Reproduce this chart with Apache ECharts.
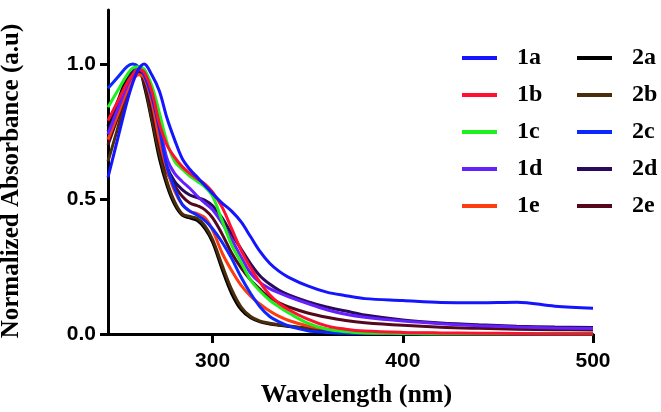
<!DOCTYPE html>
<html lang="en">
  <head>
    <meta charset="UTF-8" />
    <title>Normalized absorbance</title>
    <script src="https://cdn.jsdelivr.net/npm/echarts@6/dist/echarts.min.js"></script>
    <style>
      html, body { margin: 0; padding: 0; background: #fff; }
      #chart { width: 661px; height: 412px; }
    </style>
  </head>
  <body>
    <div id="chart"></div>
    <script>
      // wavelengths (nm) shared by every spectrum
      const wavelengths = [245, 250, 255, 258, 261, 264, 268, 272, 276, 280, 284, 288, 292, 296, 300, 305, 310, 315, 320, 325, 330, 335, 340, 350, 360, 370, 380, 400, 420, 440, 460, 480, 500];

      const abs1a = [0.58, 0.72, 0.86, 0.93, 0.98, 1.0, 0.96, 0.9, 0.8, 0.72, 0.65, 0.61, 0.58, 0.55, 0.52, 0.485, 0.455, 0.415, 0.36, 0.305, 0.262, 0.232, 0.21, 0.178, 0.155, 0.142, 0.131, 0.124, 0.117, 0.116, 0.118, 0.103, 0.095];
      const abs1b = [0.79, 0.86, 0.93, 0.96, 0.98, 0.97, 0.9, 0.78, 0.7, 0.655, 0.62, 0.595, 0.575, 0.555, 0.525, 0.47, 0.39, 0.31, 0.245, 0.19, 0.145, 0.113, 0.09, 0.055, 0.03, 0.018, 0.011, 0.006, 0.004, 0.003, 0.002, 0.0, 0.0];
      const abs1c = [0.84, 0.9, 0.96, 0.985, 0.99, 0.98, 0.92, 0.82, 0.71, 0.64, 0.61, 0.585, 0.565, 0.545, 0.51, 0.42, 0.33, 0.265, 0.2, 0.158, 0.125, 0.1, 0.078, 0.04, 0.018, 0.008, 0.004, 0.002, 0.0, 0.0, 0.0, 0.0, 0.0];
      const abs1d = [0.74, 0.83, 0.92, 0.96, 0.985, 0.98, 0.9, 0.78, 0.65, 0.595, 0.565, 0.54, 0.51, 0.485, 0.46, 0.41, 0.35, 0.285, 0.225, 0.19, 0.168, 0.152, 0.138, 0.113, 0.09, 0.073, 0.062, 0.048, 0.038, 0.031, 0.026, 0.022, 0.02];
      const abs1e = [0.72, 0.81, 0.9, 0.94, 0.96, 0.95, 0.86, 0.72, 0.61, 0.53, 0.48, 0.455, 0.445, 0.43, 0.385, 0.3, 0.235, 0.18, 0.14, 0.11, 0.085, 0.065, 0.05, 0.03, 0.018, 0.01, 0.006, 0.003, 0.0, 0.0, 0.0, 0.0, 0.0];
      const abs2a = [0.77, 0.86, 0.95, 0.98, 0.98, 0.92, 0.79, 0.65, 0.55, 0.48, 0.44, 0.43, 0.42, 0.39, 0.34, 0.24, 0.15, 0.09, 0.06, 0.045, 0.037, 0.032, 0.028, 0.021, 0.015, 0.01, 0.006, 0.003, 0.001, 0.0, 0.0, 0.0, 0.0];
      const abs2b = [0.64, 0.76, 0.89, 0.95, 0.97, 0.93, 0.8, 0.67, 0.565, 0.49, 0.445, 0.435, 0.428, 0.4, 0.35, 0.255, 0.165, 0.1, 0.065, 0.048, 0.04, 0.034, 0.03, 0.022, 0.016, 0.011, 0.007, 0.004, 0.002, 0.001, 0.0, 0.0, 0.0];
      const abs2c = [0.91, 0.95, 0.99, 1.0, 0.99, 0.96, 0.88, 0.76, 0.62, 0.54, 0.48, 0.455, 0.44, 0.42, 0.39, 0.34, 0.28, 0.21, 0.15, 0.1, 0.065, 0.045, 0.03, 0.012, 0.006, 0.003, 0.002, 0.001, 0.0, 0.0, 0.0, 0.0, 0.0];
      const abs2d = [0.75, 0.84, 0.93, 0.97, 0.98, 0.95, 0.85, 0.72, 0.62, 0.565, 0.535, 0.515, 0.505, 0.495, 0.475, 0.43, 0.37, 0.315, 0.26, 0.215, 0.185, 0.162, 0.145, 0.12, 0.1, 0.085, 0.07, 0.052, 0.041, 0.034, 0.029, 0.026, 0.024];
      const abs2e = [0.7, 0.8, 0.9, 0.95, 0.97, 0.94, 0.83, 0.7, 0.6, 0.55, 0.51, 0.485, 0.475, 0.46, 0.43, 0.37, 0.3, 0.245, 0.2, 0.165, 0.135, 0.115, 0.1, 0.078, 0.062, 0.05, 0.042, 0.032, 0.025, 0.021, 0.018, 0.016, 0.015];

      const xTicks = [300, 400, 500];
      const yTicks = [0, 0.5, 1.0];

      const seriesDefs = [
        { name: "2a", values: abs2a, color: "#000000" },
        { name: "2b", values: abs2b, color: "#4a2e0c" },
        { name: "2e", values: abs2e, color: "#55081c" },
        { name: "2d", values: abs2d, color: "#2a0a5c" },
        { name: "1e", values: abs1e, color: "#ff3c10" },
        { name: "1d", values: abs1d, color: "#6420ff" },
        { name: "2c", values: abs2c, color: "#0a28ff" },
        { name: "1c", values: abs1c, color: "#1ef01e" },
        { name: "1b", values: abs1b, color: "#ff1030" },
        { name: "1a", values: abs1a, color: "#1414ff" },
      ];

      const chart = echarts.init(document.getElementById("chart"));

      const serif = "'Liberation Serif', 'Times New Roman', serif";
      const sans = "'Liberation Sans', Arial, sans-serif";

      const legendBase = {
        orient: "vertical",
        top: 41,
        itemWidth: 35,
        itemHeight: 4,
        itemGap: 13,
        icon: "rect",
        selectedMode: false,
        textStyle: {
          fontFamily: serif,
          fontWeight: "bold",
          fontSize: 24,
          color: "#000",
          padding: [0, 0, 0, 15],
        },
      };

      const option = {
        animation: false,
        backgroundColor: "#fff",
        grid: { left: 108, right: 68, top: 10, bottom: 78, outerBoundsMode: "none" },
        legend: [
          Object.assign({}, legendBase, { left: 457, data: ["1a", "1b", "1c", "1d", "1e"] }),
          Object.assign({}, legendBase, { left: 572, data: ["2a", "2b", "2c", "2d", "2e"] }),
        ],
        xAxis: {
          type: "value",
          min: 245,
          max: 500,
          name: "Wavelength (nm)",
          nameLocation: "middle",
          nameGap: 48,
          nameTextStyle: { fontFamily: serif, fontWeight: "bold", fontSize: 26, color: "#000", padding: [0, 0, 0, 12] },
          axisLine: { lineStyle: { color: "#000", width: 3 } },
          axisTick: { customValues: xTicks, length: 9, lineStyle: { color: "#000", width: 3 } },
          axisLabel: {
            customValues: xTicks,
            margin: 17,
            fontFamily: sans,
            fontWeight: "bold",
            fontSize: 21,
            color: "#000",
          },
          splitLine: { show: false },
        },
        yAxis: {
          type: "value",
          min: 0,
          max: 1.2,
          name: "Normalized Absorbance (a.u)",
          nameLocation: "middle",
          nameGap: 84,
          nameTextStyle: { fontFamily: serif, fontWeight: "bold", fontSize: 25, color: "#000", padding: [0, 18, 0, 0] },
          axisLine: { show: true, lineStyle: { color: "#000", width: 3 } },
          axisTick: { show: true, customValues: yTicks, length: 8, lineStyle: { color: "#000", width: 3 } },
          axisLabel: {
            customValues: yTicks,
            margin: 12,
            fontFamily: sans,
            fontWeight: "bold",
            fontSize: 21,
            color: "#000",
            formatter: (v) => v.toFixed(1),
          },
          splitLine: { show: false },
        },
        series: seriesDefs.map((s) => ({
          name: s.name,
          type: "line",
          smooth: 0.35,
          showSymbol: false,
          color: s.color,
          lineStyle: { width: 3, color: s.color },
          data: wavelengths.map((w, i) => [w, s.values[i]]),
        })),
      };

      chart.setOption(option);
    </script>
  </body>
</html>
